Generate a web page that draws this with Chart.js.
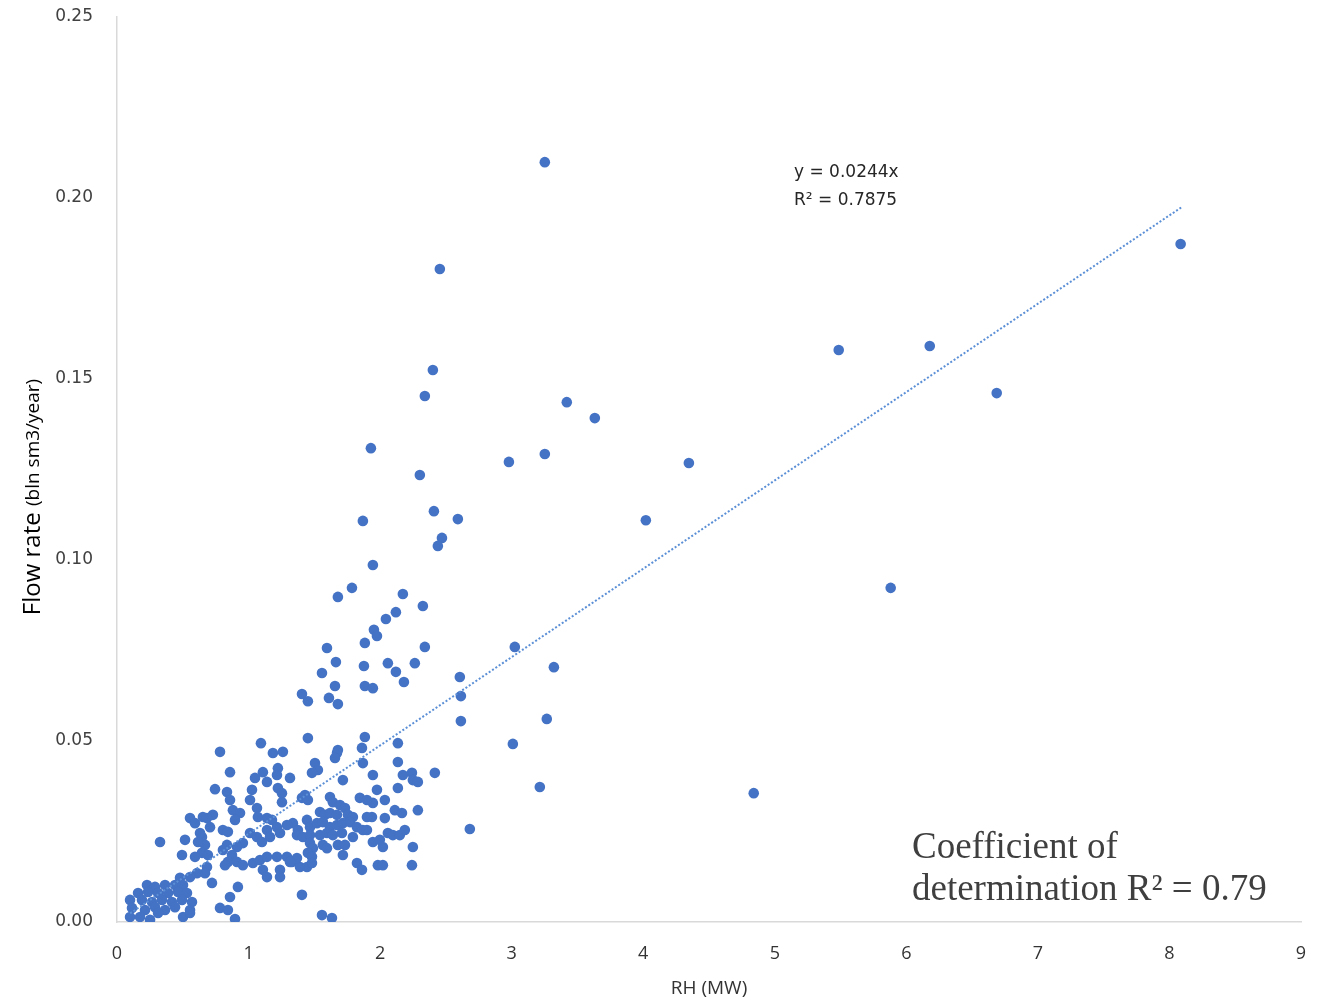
<!DOCTYPE html>
<html>
<head>
<meta charset="utf-8">
<script src="https://cdn.jsdelivr.net/npm/chart.js@4/dist/chart.umd.min.js"></script>
<style>
  html, body { margin: 0; padding: 0; background: #fff; }
  #wrap { width: 1324px; height: 1001px; }
</style>
</head>
<body>
<div id="wrap"><canvas id="flowChart" width="1324" height="1001"></canvas></div>
<script>
// RH (MW) vs flow rate (bln sm3/year)
var rhValues = [
  3.252, 2.454, 8.085, 5.486, 6.178, 6.687, 2.401, 2.340, 3.419, 3.632,
  1.930, 2.979, 3.252, 4.347, 2.302, 4.020, 2.409, 2.591, 1.869, 2.470,
  2.439, 5.881, 1.945, 1.786, 1.679, 2.173, 2.120, 2.325, 2.044, 1.953,
  1.976, 1.596, 1.884, 2.340, 3.024, 1.664, 1.877, 2.059, 2.264, 3.321,
  1.558, 2.120, 2.606, 1.657, 1.884, 1.945, 2.181, 1.406, 1.451, 1.611,
  1.679, 2.614, 2.614, 3.267, 3.009, 3.214, 4.840, 2.682,
  // upper part of the cluster
  1.094, 1.451, 1.884, 1.862, 1.679, 1.672, 1.657, 2.135, 1.869, 0.783,
  1.185, 1.261, 0.859, 1.109, 1.223, 1.216, 1.049, 1.140, 1.315, 0.745,
  0.836, 0.859, 1.026, 1.011, 1.223, 1.254, 1.254, 1.406, 1.429, 1.451,
  1.505, 1.527, 1.482, 1.717, 1.945, 1.976, 2.135, 2.135, 2.173, 2.242,
  2.249, 2.287, 2.416, 2.036, 1.945, 2.112, 2.166, 2.287, 1.938, 2.036,
  2.059, 2.097, 2.150, 2.188, 1.945, 1.998, 2.021, 2.249, 1.983, 2.021,
  2.242,
  // middle of the cluster
  1.619, 1.641, 1.695, 1.733, 1.846, 1.900, 1.543, 1.581, 1.619, 1.672,
  1.755, 1.793, 1.900, 1.337, 1.375, 1.444, 1.467, 1.520, 1.565, 1.619,
  1.672, 1.717, 1.771, 1.824, 1.869, 1.368, 1.413, 1.467, 1.543, 1.596,
  1.641, 1.710, 1.793, 1.900, 1.467, 1.489, 1.565, 1.596, 1.679, 1.733,
  1.451, 1.482, 1.717, 1.330, 1.391, 1.444, 1.482, 1.824, 1.862, 1.406,
  1.558, 1.634,
  0.729, 0.684, 0.707, 0.881, 0.935, 0.897, 1.064, 1.071, 1.140, 1.178,
  0.805, 0.843, 1.011, 1.064, 1.140, 1.216, 1.292, 1.239, 1.163, 1.102,
  0.957, 0.912, 0.836, 0.805, 0.646, 0.669, 0.646, 0.874, 0.843, 0.821,
  0.912, 0.957, 1.033, 1.087, 1.140, 1.216, 1.292, 1.368, 1.109, 1.140,
  1.239, 1.239, 1.315, 0.684, 0.669, 0.722, 0.919, 0.859, 0.783, 0.843,
  0.897,
  // lower left
  0.327, 0.555, 0.593, 0.653, 0.631, 0.616, 0.517, 0.494, 0.593, 0.691,
  0.608, 0.555, 0.479,
  0.228, 0.289, 0.365, 0.441, 0.502, 0.160, 0.236, 0.312, 0.388, 0.464,
  0.532, 0.099, 0.190, 0.266, 0.342, 0.418, 0.494, 0.570, 0.114, 0.213,
  0.289, 0.365, 0.441, 0.555, 0.099, 0.175, 0.251, 0.312, 0.502, 0.555
];
var flowValues = [
  0.2099, 0.1804, 0.1873, 0.1580, 0.1591, 0.1461, 0.1525, 0.1453, 0.1436, 0.1392,
  0.1309, 0.1271, 0.1293, 0.1268, 0.1235, 0.1110, 0.1135, 0.1113, 0.1108, 0.1061,
  0.1039, 0.0923, 0.0986, 0.0923, 0.0898, 0.0906, 0.0856, 0.0873, 0.0837, 0.0807,
  0.0790, 0.0757, 0.0771, 0.0760, 0.0760, 0.0718, 0.0707, 0.0715, 0.0715, 0.0704,
  0.0688, 0.0691, 0.0677, 0.0652, 0.0652, 0.0646, 0.0663, 0.0630, 0.0610, 0.0619,
  0.0602, 0.0624, 0.0555, 0.0561, 0.0492, 0.0373, 0.0356, 0.0257,
  0.0494, 0.0508, 0.0511, 0.0481, 0.0475, 0.0467, 0.0453, 0.0494, 0.0439, 0.0470,
  0.0467, 0.0470, 0.0414, 0.0414, 0.0425, 0.0406, 0.0398, 0.0387, 0.0398, 0.0367,
  0.0359, 0.0337, 0.0365, 0.0337, 0.0370, 0.0356, 0.0331, 0.0343, 0.0351, 0.0337,
  0.0439, 0.0420, 0.0412, 0.0392, 0.0406, 0.0365, 0.0370, 0.0442, 0.0406, 0.0412,
  0.0392, 0.0387, 0.0412, 0.0337, 0.0329, 0.0309, 0.0301, 0.0309, 0.0290, 0.0287,
  0.0246, 0.0240, 0.0240, 0.0254, 0.0221, 0.0227, 0.0207, 0.0207, 0.0157, 0.0157,
  0.0157,
  0.0345, 0.0331, 0.0323, 0.0315, 0.0343, 0.0337, 0.0304, 0.0296, 0.0301, 0.0296,
  0.0296, 0.0290, 0.0290, 0.0273, 0.0254, 0.0282, 0.0262, 0.0273, 0.0276, 0.0262,
  0.0268, 0.0273, 0.0276, 0.0262, 0.0254, 0.0240, 0.0235, 0.0240, 0.0240, 0.0246,
  0.0240, 0.0246, 0.0235, 0.0254, 0.0218, 0.0204, 0.0213, 0.0204, 0.0213, 0.0213,
  0.0191, 0.0180, 0.0185, 0.0166, 0.0152, 0.0152, 0.0163, 0.0163, 0.0144, 0.0075,
  0.0019, 0.0011,
  0.0296, 0.0287, 0.0262, 0.0309, 0.0301, 0.0282, 0.0315, 0.0290, 0.0287, 0.0282,
  0.0254, 0.0249, 0.0246, 0.0235, 0.0254, 0.0262, 0.0268, 0.0246, 0.0235, 0.0221,
  0.0218, 0.0207, 0.0213, 0.0199, 0.0235, 0.0213, 0.0191, 0.0185, 0.0166, 0.0157,
  0.0166, 0.0157, 0.0163, 0.0171, 0.0180, 0.0180, 0.0180, 0.0177, 0.0144, 0.0124,
  0.0144, 0.0124, 0.0166, 0.0152, 0.0135, 0.0108, 0.0097, 0.0069, 0.0039, 0.0033,
  0.0008,
  0.0221, 0.0287, 0.0273, 0.0290, 0.0246, 0.0221, 0.0227, 0.0185, 0.0180, 0.0185,
  0.0135, 0.0124, 0.0122,
  0.0102, 0.0097, 0.0102, 0.0102, 0.0102, 0.0080, 0.0083, 0.0080, 0.0080, 0.0083,
  0.0080, 0.0061, 0.0061, 0.0055, 0.0061, 0.0055, 0.0061, 0.0055, 0.0039, 0.0033,
  0.0041, 0.0033, 0.0041, 0.0033, 0.0014, 0.0014, 0.0006, 0.0025, 0.0014, 0.0025
];

// linear trendline through origin (y = 0.0244x), end points
var trendX = [0.10, 8.09];
var trendY = [0.0024, 0.1974];

var xTicks = [0, 1, 2, 3, 4, 5, 6, 7, 8, 9];
var yTicks = [0, 0.05, 0.10, 0.15, 0.20, 0.25];

var scatterPts = rhValues.map(function(x, i){ return {x: x, y: flowValues[i]}; });
var trendPts = trendX.map(function(x, i){ return {x: x, y: trendY[i]}; });

//draws the texts that sit on top of the plot
var labelsPlugin = {
  id: 'labelsPlugin',
  afterDraw: function(chart){
    var ctx = chart.ctx;
    ctx.save();
    // trendline equation
    ctx.fillStyle = '#262626';
    ctx.font = '17px "DejaVu Sans", sans-serif';
    ctx.textAlign = 'left';
    ctx.textBaseline = 'middle';
    ctx.fillText('y = 0.0244x', 794, 173);
    ctx.fillText('R\u00b2 = 0.7875', 794, 201);
    // note in lower right
    ctx.fillStyle = '#3f3f3f';
    ctx.font = '37px "Liberation Serif", "Times New Roman", serif';
    ctx.fillText('Coefficient of', 912, 848);
    ctx.fillText('determination R\u00b2 = 0.79', 912, 890);
    // x axis title
    ctx.fillStyle = '#333';
    ctx.font = '19px "Open Sans", sans-serif';
    ctx.textAlign = 'center';
    ctx.fillText('RH (MW)', 709, 989);
    // y axis title, two sizes
    ctx.translate(33, 497);
    ctx.rotate(-Math.PI / 2);
    ctx.fillStyle = '#000';
    var big = '24px "Open Sans", sans-serif';
    var small = '19px "Open Sans", sans-serif';
    ctx.font = big;
    var w1 = ctx.measureText('Flow rate ').width;
    ctx.font = small;
    var w2 = ctx.measureText('(bln sm3/year)').width;
    var start = -(w1 + w2) / 2;
    ctx.textAlign = 'left';
    ctx.font = big;
    ctx.fillText('Flow rate ', start, 0);
    ctx.font = small;
    ctx.fillText('(bln sm3/year)', start + w1, 1);
    ctx.restore();
  }
};

var ctx = document.getElementById('flowChart').getContext('2d');
var flowChart = new Chart(ctx, {
  type: 'scatter',
  data: {
    datasets: [{
      label: 'Flow rate',
      data: scatterPts,
      backgroundColor: '#4472c4',
      borderColor: '#4472c4',
      pointRadius: 5.3,
      pointBorderWidth: 0,
      order: 2
    }, {
      label: 'Trend',
      type: 'line',
      data: trendPts,
      borderColor: '#5b8fd6',
      borderWidth: 2,
      borderDash: [2, 2],
      pointRadius: 0,
      fill: false,
      order: 1
    }]
  },
  options: {
    responsive: false,
    animation: false,
    layout: { padding: { left: 0, right: 23, top: 17, bottom: 0 } },
    plugins: {
      legend: { display: false },
      tooltip: { enabled: false }
    },
    scales: {
      x: {
        type: 'linear',
        min: 0,
        max: 9,
        afterBuildTicks: function(axis){ axis.ticks = xTicks.map(function(v){ return {value: v}; }); },
        afterFit: function(axis){
          axis.height = 79;
          axis.paddingLeft = 0;
          axis.paddingRight = 0;
        },
        grid: { display: false, drawTicks: false },
        border: { display: true, color: '#d9d9d9', width: 1.5 },
        ticks: {
          padding: 21,
          color: '#333',
          font: { size: 18, family: '"Open Sans", sans-serif' }
        }
      },
      y: {
        type: 'linear',
        min: 0,
        max: 0.25,
        afterBuildTicks: function(axis){ axis.ticks = yTicks.map(function(v){ return {value: v}; }); },
        afterFit: function(axis){
          axis.width = 117;
          axis.paddingTop = 0;
          axis.paddingBottom = 0;
        },
        grid: { display: false, drawTicks: false },
        border: { display: true, color: '#d9d9d9', width: 1.5 },
        ticks: {
          padding: 24,
          color: '#404040',
          font: { size: 17, family: '"DejaVu Sans", sans-serif' },
          callback: function(v){ return v.toFixed(2); }
        }
      }
    }
  },
  plugins: [labelsPlugin]
}); //end flowChart
</script>
</body>
</html>
